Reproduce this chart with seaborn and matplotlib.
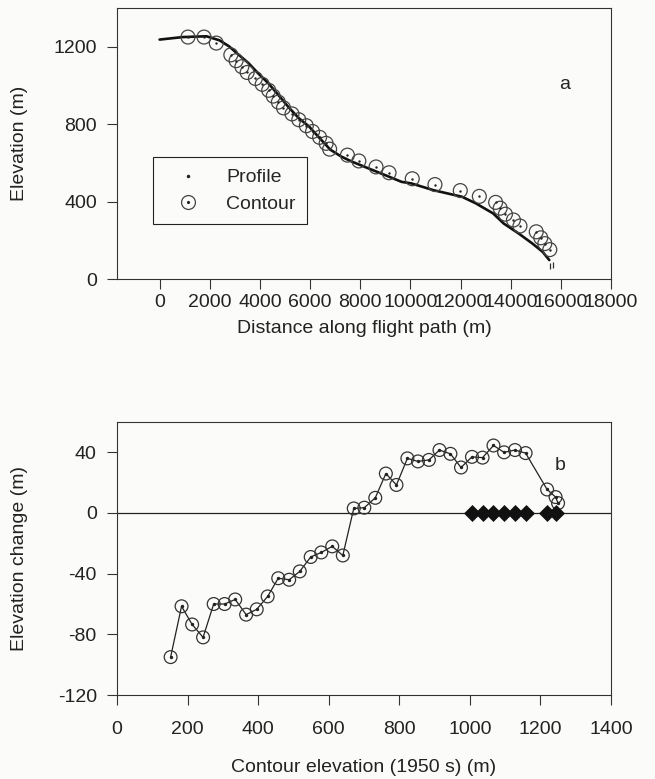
import matplotlib

matplotlib.use("Agg")
import matplotlib.pyplot as plt
import numpy as np
import pandas as pd
import seaborn as sns
from matplotlib.lines import Line2D

# panel a: flight profile (distance m, elevation m)
profile_dist = [0, 930, 1870, 2390, 2770, 3150, 3540, 3920, 4330, 4740, 5140, 5550,
                5960, 6380, 6810, 7240, 7660, 8340, 8990, 9650, 10040, 10920, 12060,
                12610, 13300, 13720, 14310, 14860, 15270, 15540]
profile_elev = [1237, 1250, 1254, 1233, 1202, 1159, 1116, 1064, 1012, 950, 888, 831,
                788, 728, 668, 633, 607, 571, 537, 502, 494, 459, 425, 391, 339, 287,
                236, 184, 141, 98]
# two stray profile samples past the end of the line
tail_dist = [15560, 15680]
tail_elev = [68, 72]

# panel a: 1950s contour crossings
contour_dist = [1130, 1770, 2260, 2840, 3050, 3280, 3490, 3820, 4090, 4350, 4530, 4735,
                4940, 5280, 5550, 5850, 6100, 6380, 6640, 6780, 7490, 7945, 8630, 9150,
                10075, 10980, 11990, 12750, 13400, 13580, 13790, 14110, 14370, 15020,
                15200, 15360, 15560]
contour_elev = [1250, 1250, 1219, 1158, 1128, 1097, 1067, 1036, 1006, 975, 945, 914,
                884, 853, 823, 792, 762, 732, 701, 671, 640, 610, 579, 549, 518, 488,
                457, 427, 396, 366, 335, 305, 274, 244, 213, 183, 152]

# panel b: elevation change at each contour
change_contour = [152, 183, 213, 244, 274, 305, 335, 366, 396, 427, 457, 488, 518, 549,
                  579, 610, 640, 671, 701, 732, 762, 792, 823, 853, 884, 914, 945, 975,
                  1006, 1036, 1067, 1097, 1128, 1158, 1219, 1243, 1250]
change_value = [-95, -61.5, -73.5, -82, -60, -60, -57, -67, -63.5, -55, -43, -44, -38.5,
                -29, -26, -22, -28, 3, 3.5, 10, 26, 18.5, 36, 34, 35, 41.5, 39, 30,
                37, 36.5, 44.5, 40, 41.5, 39.5, 15.5, 10.5, 6.5]
diamond_contour = [1006, 1036, 1067, 1097, 1128, 1158, 1219, 1245]
diamond_value = [0, 0, 0, 0, 0, 0, 0, 0]

sns.set_style("ticks")
plt.rcParams["font.family"] = ["Liberation Sans", "DejaVu Sans"]
plt.rcParams["font.size"] = 14
plt.rcParams["axes.unicode_minus"] = False

INK = "#222222"
BG = "#fbfbf9"

fig = plt.figure(figsize=(6.55, 7.79), dpi=100, facecolor=BG)
ax_a = fig.add_axes([0.1786, 0.6418, 0.7542, 0.3479])
ax_b = fig.add_axes([0.1786, 0.1078, 0.7542, 0.3505])

prof = pd.DataFrame({"dist": profile_dist, "elev": profile_elev})
tail = pd.DataFrame({"dist": tail_dist, "elev": tail_elev})
cont = pd.DataFrame({"dist": contour_dist, "elev": contour_elev})
chg = pd.DataFrame({"contour": change_contour, "change": change_value})
dia = pd.DataFrame({"contour": diamond_contour, "change": diamond_value})

# --- panel a
sns.lineplot(data=prof, x="dist", y="elev", ax=ax_a, color="#111111", lw=1.9,
             sort=False, estimator=None)
sns.scatterplot(data=tail, x="dist", y="elev", ax=ax_a, marker="|", s=14,
                color="#333333", linewidth=0.9)
sns.scatterplot(data=cont, x="dist", y="elev", ax=ax_a, s=100, marker="o",
                facecolor="none", edgecolor="#444444", linewidth=0.9, zorder=3)
sns.scatterplot(data=cont, x="dist", y="elev", ax=ax_a, s=3, color=INK,
                linewidth=0, zorder=4)

ax_a.set_xlim(-1700, 18000)
ax_a.set_ylim(0, 1400)
ax_a.set_xticks(np.arange(0, 18001, 2000))
ax_a.set_yticks([0, 400, 800, 1200])
ax_a.set_xlabel("Distance along flight path (m)")
ax_a.set_ylabel("Elevation (m)")
ax_a.xaxis.set_label_coords(0.5, -0.15)
ax_a.yaxis.set_label_coords(-0.18, 0.5)
ax_a.text(0.907, 0.716, "a", transform=ax_a.transAxes, ha="center", va="center",
          fontsize=14)

profile_handle = Line2D([], [], ls="none", marker=".", ms=3, color=INK)
ring = Line2D([], [], ls="none", marker="o", ms=10, mfc="none", mec="#444444", mew=0.9)
ring_dot = Line2D([], [], ls="none", marker=".", ms=2.5, color=INK)
leg = ax_a.legend([profile_handle, (ring, ring_dot)], ["Profile", "Contour"],
                  loc="upper left", bbox_to_anchor=(0.073, 0.45), borderaxespad=0,
                  frameon=True, fancybox=False, edgecolor=INK, handlelength=2.4,
                  handletextpad=0.75, borderpad=0.6, labelspacing=0.45)
leg.get_frame().set_linewidth(0.8)
leg.get_frame().set_facecolor(BG)
leg.get_frame().set_alpha(1)

# --- panel b
ax_b.axhline(0, color=INK, lw=0.9, zorder=1)
sns.lineplot(data=chg, x="contour", y="change", ax=ax_b, color=INK, lw=0.9,
             sort=False, estimator=None, zorder=2)
sns.scatterplot(data=chg, x="contour", y="change", ax=ax_b, s=85, marker="o",
                facecolor="none", edgecolor="#333333", linewidth=0.9, zorder=3)
sns.scatterplot(data=chg, x="contour", y="change", ax=ax_b, s=6, color=INK,
                linewidth=0, zorder=4)
sns.scatterplot(data=dia, x="contour", y="change", ax=ax_b, marker="D", s=75,
                color="#111111", linewidth=0, zorder=5)

ax_b.set_xlim(0, 1400)
ax_b.set_ylim(-120, 60)
ax_b.set_xticks(np.arange(0, 1401, 200))
ax_b.set_yticks([-120, -80, -40, 0, 40])
ax_b.set_xlabel("Contour elevation (1950 s) (m)")
ax_b.set_ylabel("Elevation change (m)")
ax_b.xaxis.set_label_coords(0.5, -0.235)
ax_b.yaxis.set_label_coords(-0.18, 0.5)
ax_b.text(0.897, 0.839, "b", transform=ax_b.transAxes, ha="center", va="center",
          fontsize=14)

for ax in (ax_a, ax_b):
    ax.set_facecolor(BG)
    for side in ("top", "right", "left", "bottom"):
        ax.spines[side].set_visible(True)
        ax.spines[side].set_color("#333333")
        ax.spines[side].set_linewidth(0.8)
    ax.tick_params(direction="out", length=7.5, width=0.8, color="#333333",
                   labelsize=14, labelcolor=INK)
    ax.tick_params(axis="y", pad=7)
    ax.xaxis.label.set_color(INK)
    ax.yaxis.label.set_color(INK)
ax_b.tick_params(axis="x", pad=11)

fig.savefig("out.png", dpi=100, facecolor=BG)
